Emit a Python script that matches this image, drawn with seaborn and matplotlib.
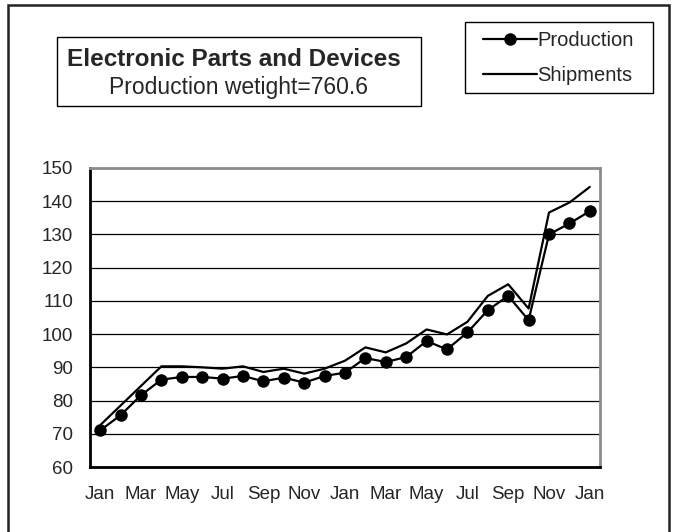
import matplotlib
matplotlib.use("Agg")
import matplotlib.pyplot as plt
import matplotlib.patches as mpatches
import pandas as pd
import seaborn as sns

# Monthly index, Jan of year 1 through Jan of year 3
months = ["Jan", "Feb", "Mar", "Apr", "May", "Jun", "Jul", "Aug", "Sep", "Oct", "Nov", "Dec"] * 2 + ["Jan"]
production = [71.0, 75.6, 81.6, 86.3, 87.1, 87.1, 86.6, 87.4, 85.8, 86.9, 85.4, 87.4,
              88.4, 92.8, 91.6, 93.1, 97.9, 95.4, 100.5, 107.2, 111.5, 104.2, 130.0, 133.3, 137.0]
shipments = [72.6, 78.5, 84.4, 90.3, 90.3, 90.0, 89.6, 90.3, 88.6, 89.6, 88.1, 89.6,
             92.0, 96.0, 94.5, 97.2, 101.4, 99.9, 103.7, 111.5, 115.0, 107.7, 136.6, 139.6, 144.3]
y_ticks = [60, 70, 80, 90, 100, 110, 120, 130, 140, 150]

title = "Electronic Parts and Devices"
subtitle = "Production wetight=760.6"

df = pd.DataFrame({"idx": range(len(months)), "month": months,
                   "Production": production, "Shipments": shipments})

sns.set_style("white")
plt.rcParams["font.family"] = ["Liberation Sans", "DejaVu Sans"]

fig = plt.figure(figsize=(6.76, 5.32), dpi=100)
ax = fig.add_axes([90 / 676, 1 - 467 / 532, 510 / 676, 299 / 532])

sns.lineplot(data=df, x="idx", y="Shipments", ax=ax, color="black",
             linewidth=1.6, label="Shipments", zorder=3)
sns.lineplot(data=df, x="idx", y="Production", ax=ax, color="black",
             linewidth=1.6, marker="o", markersize=9, markeredgewidth=0,
             label="Production", zorder=4)

ax.set_xlim(-0.5, len(months) - 0.5)
ax.set_ylim(60, 150)
ax.set_yticks(y_ticks)
ax.set_yticklabels([str(v) for v in y_ticks], fontsize=13.5)
ax.set_xticks(df["idx"][::2])
ax.set_xticklabels(df["month"][::2], fontsize=13.5)
ax.set_xticks([i + 0.5 for i in range(1, len(months) - 1, 2)], minor=True)
ax.tick_params(axis="x", which="major", length=0, pad=14)
ax.tick_params(axis="x", which="minor", direction="in", length=5, width=1, color="black")
ax.tick_params(axis="y", which="major", direction="out", length=3, width=1,
               color="black", pad=9)
ax.set_xlabel("")
ax.set_ylabel("")

ax.yaxis.grid(True, color="black", linewidth=0.9)
ax.xaxis.grid(False)
ax.set_axisbelow(True)
for side in ["left", "bottom"]:
    ax.spines[side].set_color("black")
    ax.spines[side].set_linewidth(2)
for side in ["top", "right"]:
    ax.spines[side].set_visible(True)
    ax.spines[side].set_color("#8c8c8c")
    ax.spines[side].set_linewidth(2)

# Legend in the top-right box
handles, labels = ax.get_legend_handles_labels()
order = [labels.index("Production"), labels.index("Shipments")]
ax.get_legend().remove()
leg = fig.legend([handles[i] for i in order], [labels[i] for i in order],
                 loc="upper left", bbox_to_anchor=(483 / 676, 1 - 31 / 532),
                 fontsize=14.5, frameon=False, handlelength=2.7, handletextpad=0.0,
                 borderpad=0, labelspacing=0.78, borderaxespad=0)
fig.patches.append(mpatches.Rectangle((465 / 676, 1 - 93 / 532), 188 / 676, 71 / 532,
                                      transform=fig.transFigure, fill=False,
                                      edgecolor="black", linewidth=1))

# Title box
fig.patches.append(mpatches.Rectangle((57 / 676, 1 - 106 / 532), 364 / 676, 69 / 532,
                                      transform=fig.transFigure, fill=False,
                                      edgecolor="black", linewidth=1))
fig.text(234 / 676, 1 - 66 / 532, title, ha="center", va="baseline",
         fontsize=17.5, fontweight="bold")
fig.text(238 / 676, 1 - 94 / 532, subtitle, ha="center", va="baseline",
         fontsize=16.5)

# Outer chart frame
fig.patches.append(mpatches.Rectangle((8 / 676, -0.05), 661 / 676, 0.05 + 1 - 5 / 532,
                                      transform=fig.transFigure, fill=False,
                                      edgecolor="#222222", linewidth=1.8))

fig.savefig("out.png", dpi=100)
